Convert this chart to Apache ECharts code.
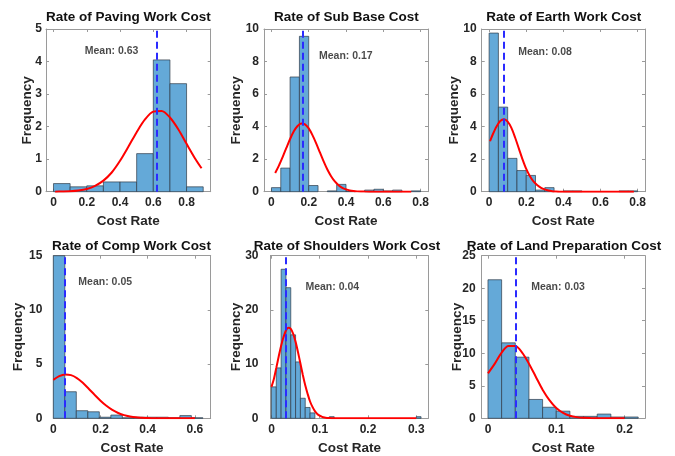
<!DOCTYPE html>
<html><head><meta charset="utf-8">
<script src="https://cdn.jsdelivr.net/npm/echarts@6/dist/echarts.min.js"></script>
<style>html,body{margin:0;padding:0;background:#fff}#c{width:675px;height:456px}</style>
</head><body><div id="c"></div>
<script>
// ---------- DATA ----------
const panelTitles = ['Rate of Paving Work Cost','Rate of Sub Base Cost','Rate of Earth Work Cost',
  'Rate of Comp Work Cost','Rate of Shoulders Work Cost','Rate of Land Preparation Cost'];
const meanTexts = ['Mean: 0.63','Mean: 0.17','Mean: 0.08','Mean: 0.05','Mean: 0.04','Mean: 0.03'];
const meanValues = [0.623, 0.165, 0.076, 0.0525, 0.034, 0.0352];

const pavingEdges = [0,0.1,0.2,0.3,0.4,0.5,0.6,0.7,0.8,0.9];
const pavingCounts = [0.25,0.15,0.18,0.3,0.3,1.17,4.05,3.32,0.15];
const pavingCurveX = [0.01,0.05,0.1,0.15,0.2,0.25,0.3,0.35,0.4,0.45,0.5,0.55,0.6,0.65,0.7,0.75,0.8,0.85,0.89];
const pavingCurveY = [0.0,0.005,0.014,0.036,0.084,0.18,0.34,0.59,0.95,1.38,1.83,2.22,2.46,2.48,2.28,1.92,1.47,1.03,0.72];

const subBaseEdges = [0,0.05,0.1,0.15,0.2,0.25,0.3,0.35,0.4,0.45,0.5,0.55,0.6,0.65,0.7,0.75,0.8];
const subBaseCounts = [0.25,1.45,7.05,9.55,0.38,0,0.05,0.45,0.03,0,0.1,0.15,0.05,0.1,0,0.05];
const subBaseCurveX = [0.02,0.04,0.06,0.08,0.1,0.12,0.14,0.16,0.18,0.2,0.22,0.24,0.26,0.28,0.3,0.32,0.34,0.36,0.38,0.4,
  0.42,0.44,0.46,0.48,0.5,0.55,0.6,0.65,0.7,0.75];
const subBaseCurveY = [1.15,1.6,2.13,2.69,3.24,3.71,4.04,4.19,4.14,3.89,3.48,2.97,2.41,1.86,1.36,0.95,0.63,0.4,0.24,0.14,
  0.076,0.04,0.02,0.01,0.005,0,0,0,0,0];

const earthEdges = [0,0.05,0.1,0.15,0.2,0.25,0.3,0.35,0.4,0.45,0.5,0.55,0.6,0.65,0.7,0.75,0.8];
const earthCounts = [9.75,5.2,2.05,1.3,1.0,0.1,0.25,0,0.05,0.05,0,0,0,0,0.05,0.05];
const earthCurveX = [0.005,0.02,0.04,0.06,0.08,0.1,0.12,0.14,0.16,0.18,0.2,0.22,0.24,0.26,0.28,0.3,0.32,0.34,0.36,0.38,0.4,
  0.45,0.5,0.55,0.6,0.65,0.7,0.75,0.78];
const earthCurveY = [3.1,3.53,4.01,4.34,4.45,4.31,3.92,3.33,2.66,1.99,1.4,0.95,0.62,0.4,0.24,0.14,0.07,0.03,0.01,0,0,
  0,0,0,0,0,0,0,0];

const compEdges = [0,0.0488,0.0975,0.1463,0.195,0.2438,0.2926,0.3413,0.39,0.4388,0.4876,0.5363,0.5851,0.6339];
const compCounts = [15.5,2.45,0.7,0.6,0.1,0.3,0.05,0.1,0.1,0.1,0.05,0.25,0.05];
const compCurveX = [0,0.025,0.05,0.075,0.1,0.125,0.15,0.175,0.2,0.225,0.25,0.275,0.3,0.325,0.35,0.375,0.4,0.425,0.45,
  0.5,0.55,0.6];
const compCurveY = [3.55,3.89,4.05,3.98,3.71,3.27,2.73,2.16,1.62,1.15,0.77,0.49,0.29,0.17,0.09,0.05,0.02,0.01,0,
  0,0,0];

const shoulderEdges = [0,0.01,0.02,0.03,0.04,0.05,0.06,0.07,0.08,0.09,0.1,0.11,0.12,0.13,0.14,0.15,0.16,
  0.17,0.18,0.19,0.2,0.21,0.22,0.23,0.24,0.25,0.26,0.27,0.28,0.29,0.3,0.31];
const shoulderCounts = [5.8,9.3,27.5,24.1,15.4,10.4,3.7,2.0,1.0,0,0,0,0.3,0,0,0,0,0,0,0,0,0,0,0,0,0,0,0,0,0,0.3];
const shoulderCurveX = [0,0.005,0.01,0.015,0.02,0.025,0.03,0.035,0.04,0.045,0.05,0.055,0.06,0.065,0.07,0.075,0.08,
  0.085,0.09,0.095,0.1,0.105,0.11,0.115,0.12,0.125,0.13,0.14,0.15,0.2,0.25,0.3];
const shoulderCurveY = [5.8,7.25,9.3,11.4,13.4,15.0,16.2,16.7,16.5,15.6,14.1,12.2,10.1,8.0,6.1,4.5,3.1,
  2.1,1.33,0.8,0.48,0.27,0.14,0.07,0.04,0.02,0.01,0,0,0,0,0];

const landEdges = [0,0.02,0.04,0.06,0.08,0.1,0.12,0.14,0.16,0.18,0.2,0.22];
const landCounts = [21.3,11.6,9.4,2.9,1.7,1.1,0.3,0.3,0.65,0.2,0.2];
const landCurveX = [0,0.01,0.02,0.03,0.04,0.05,0.06,0.07,0.08,0.09,0.1,0.11,0.12,0.13,0.14,0.15,0.16,0.17,0.18,0.19,0.2];
const landCurveY = [6.9,8.4,10.1,11.1,11.1,10.1,8.4,6.4,4.4,2.8,1.6,0.85,0.4,0.18,0.07,0.03,0.01,0,0,0,0];

const xTickValues = [[0,0.2,0.4,0.6,0.8],[0,0.2,0.4,0.6,0.8],[0,0.2,0.4,0.6,0.8],[0,0.2,0.4,0.6],[0,0.1,0.2,0.3],[0,0.1,0.2]];
const yMaxValues = [5,10,10,15,30,25];
const yIntervals = [1,2,2,5,10,5];

const panels = [
  {edges: pavingEdges, counts: pavingCounts, cx: pavingCurveX, cy: pavingCurveY},
  {edges: subBaseEdges, counts: subBaseCounts, cx: subBaseCurveX, cy: subBaseCurveY},
  {edges: earthEdges, counts: earthCounts, cx: earthCurveX, cy: earthCurveY},
  {edges: compEdges, counts: compCounts, cx: compCurveX, cy: compCurveY},
  {edges: shoulderEdges, counts: shoulderCounts, cx: shoulderCurveX, cy: shoulderCurveY},
  {edges: landEdges, counts: landCounts, cx: landCurveX, cy: landCurveY}
];

// ---------- LAYOUT ----------
const layout = [
  {left:46,    top:29,    width:164.7, height:162.7, xMin:-0.045, xMax:0.945, nameGap:12,   yMargin:4,  tx:128.3, ty:10.5,  lab:[0.349,4.31]},
  {left:264,   top:29,    width:164,   height:162.7, xMin:-0.04,  xMax:0.84,  nameGap:21,   yMargin:5,  tx:346.3, ty:10.5,  lab:[0.399,8.34]},
  {left:481.7, top:29,    width:163.3, height:162.7, xMin:-0.04,  xMax:0.84,  nameGap:20.5, yMargin:5,  tx:563.7, ty:10.5,  lab:[0.301,8.57]},
  {left:53.3,  top:255.7, width:157.4, height:162.6, xMin:0,      xMax:0.667, nameGap:28,   yMargin:11, tx:131.5, ty:238.8, lab:[0.220,12.55]},
  {left:270.5, top:255.7, width:157.8, height:162.6, xMin:-0.002, xMax:0.325, nameGap:27.5, yMargin:12, tx:347,   ty:238.8, lab:[0.126,24.2]},
  {left:481.7, top:255.7, width:163.3, height:162.6, xMin:-0.0092,xMax:0.23,  nameGap:17.5, yMargin:6,  tx:564,   ty:238.8, lab:[0.1026,20.1]}
];

const FONT = '"Liberation Sans", Arial, Helvetica, sans-serif';
const TXT = '#262626';
const BOX = '#9a9a9a';

const grids = [], xAxes = [], yAxes = [], titles = [], series = [];
layout.forEach((L, i) => {
  grids.push({left: L.left, top: L.top, width: L.width, height: L.height, containLabel: false});
  titles.push({text: panelTitles[i], left: L.tx, top: L.ty, textAlign: 'center', padding: 0,
    textStyle: {fontFamily: FONT, fontWeight: 'bold', fontSize: 13.5, color: '#111', lineHeight: 14}});
  const tickCommon = {show: true, inside: true, length: 3, lineStyle: {color: BOX, width: 1}, customValues: xTickValues[i]};
  xAxes.push({type: 'value', gridIndex: i, position: 'bottom', min: L.xMin, max: L.xMax,
    name: 'Cost Rate', nameLocation: 'middle', nameGap: 22.5, nameMoveOverlap: false,
    nameTextStyle: {fontFamily: FONT, fontWeight: 'bold', fontSize: 13.5, color: TXT},
    axisLine: {show: true, onZero: false, lineStyle: {color: BOX, width: 1}},
    axisTick: tickCommon, splitLine: {show: false},
    axisLabel: {show: true, margin: 5, customValues: xTickValues[i], fontFamily: FONT, fontWeight: 'bold', fontSize: 12, color: TXT}});
  xAxes.push({type: 'value', gridIndex: i, position: 'top', min: L.xMin, max: L.xMax,
    axisLine: {show: true, onZero: false, lineStyle: {color: BOX, width: 1}},
    axisTick: tickCommon, splitLine: {show: false}, axisLabel: {show: false}});
  const yTick = {show: true, inside: true, length: 3, lineStyle: {color: BOX, width: 1}};
  yAxes.push({type: 'value', gridIndex: i, position: 'left', min: 0, max: yMaxValues[i], interval: yIntervals[i],
    name: 'Frequency', nameLocation: 'middle', nameRotate: 90, nameGap: L.nameGap, nameMoveOverlap: false,
    nameTextStyle: {fontFamily: FONT, fontWeight: 'bold', fontSize: 13.5, color: TXT},
    axisLine: {show: true, onZero: false, lineStyle: {color: BOX, width: 1}},
    axisTick: yTick, splitLine: {show: false},
    axisLabel: {show: true, margin: L.yMargin, fontFamily: FONT, fontWeight: 'bold', fontSize: 12, color: TXT}});
  yAxes.push({type: 'value', gridIndex: i, position: 'right', min: 0, max: yMaxValues[i], interval: yIntervals[i],
    axisLine: {show: true, onZero: false, lineStyle: {color: BOX, width: 1}},
    axisTick: yTick, splitLine: {show: false}, axisLabel: {show: false}});

  const P = panels[i];
  const barData = P.counts.map((c, k) => [P.edges[k], P.edges[k + 1], c]);
  series.push({
    type: 'custom', xAxisIndex: 2 * i, yAxisIndex: 2 * i, z: 2, silent: true,
    encode: {x: [0, 1], y: 2}, data: barData,
    renderItem: (params, api) => {
      const x0 = api.value(0), x1 = api.value(1), c = api.value(2);
      if (!c) return null;
      const p0 = api.coord([x0, 0]), p1 = api.coord([x1, c]);
      const cs = params.coordSys;
      const rect = {x: p0[0], y: p1[1], width: p1[0] - p0[0], height: p0[1] - p1[1]};
      const cl = echarts.graphic.clipRectByRect(rect, {x: cs.x, y: cs.y, width: cs.width, height: cs.height});
      if (!cl) return null;
      return {type: 'rect', shape: cl, style: {fill: '#64a9d8', stroke: '#2f3b47', lineWidth: 0.7}};
    }
  });
  series.push({
    type: 'line', xAxisIndex: 2 * i, yAxisIndex: 2 * i, z: 3, silent: true,
    data: P.cx.map((x, k) => [x, P.cy[k]]),
    smooth: 0.3, showSymbol: false, symbol: 'none',
    lineStyle: {color: '#ff0000', width: 2},
    markLine: {silent: true, symbol: ['none', 'none'], label: {show: false}, animation: false,
      lineStyle: {color: '#2b2bff', width: 2, type: [7, 4]},
      data: [{xAxis: meanValues[i]}]}
  });
  series.push({
    type: 'scatter', xAxisIndex: 2 * i, yAxisIndex: 2 * i, z: 4, silent: true,
    symbolSize: 0, data: [L.lab],
    label: {show: true, position: 'inside', formatter: meanTexts[i], fontFamily: FONT, fontWeight: 'bold', fontSize: 10.5, color: '#1a1a1a'}
  });
});

const chart = echarts.init(document.getElementById('c'), null, {renderer: 'canvas'});
chart.setOption({
  animation: false, backgroundColor: '#ffffff',
  title: titles, grid: grids, xAxis: xAxes, yAxis: yAxes, series: series
});
</script>
</body></html>
